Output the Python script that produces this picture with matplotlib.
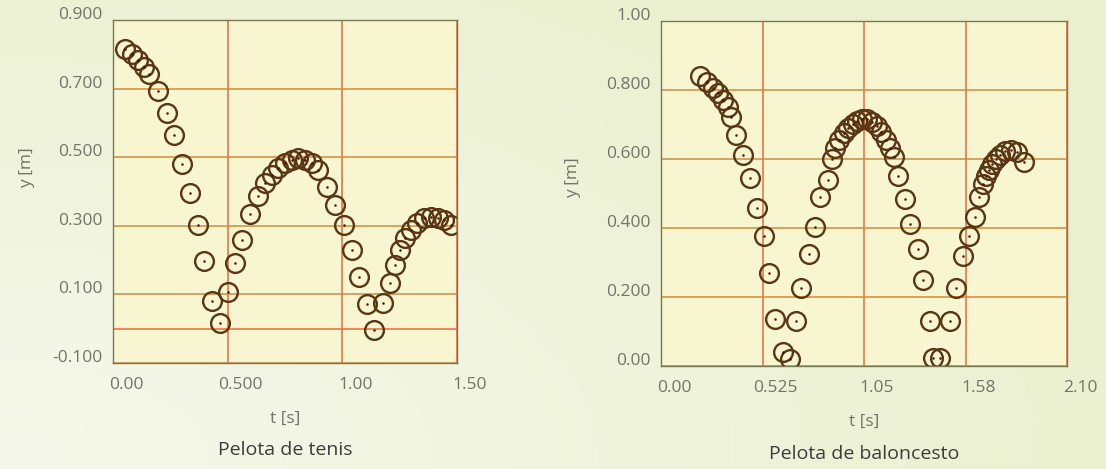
import matplotlib
matplotlib.use("Agg")
import numpy as np
import matplotlib.pyplot as plt
import matplotlib.transforms as mtransforms

plt.rcParams['font.family'] = ['Open Sans', 'DejaVu Sans']

# Pelota de tenis
tenis_t = [0.052, 0.082, 0.110, 0.135, 0.159, 0.198, 0.234, 0.267, 0.302, 0.337,
           0.370, 0.397, 0.432, 0.467, 0.501, 0.534, 0.563, 0.598, 0.634, 0.663,
           0.692, 0.721, 0.750, 0.779, 0.808, 0.837, 0.866, 0.892, 0.932, 0.968,
           1.006, 1.041, 1.071, 1.106, 1.139, 1.177, 1.206, 1.230, 1.251, 1.275,
           1.299, 1.325, 1.356, 1.386, 1.417, 1.445, 1.476]
tenis_y = [0.816, 0.802, 0.784, 0.764, 0.743, 0.693, 0.629, 0.564, 0.481, 0.396,
           0.301, 0.196, 0.080, 0.016, 0.107, 0.191, 0.259, 0.334, 0.388, 0.426,
           0.449, 0.469, 0.483, 0.492, 0.497, 0.492, 0.483, 0.464, 0.413, 0.362,
           0.303, 0.229, 0.152, 0.072, -0.003, 0.075, 0.133, 0.186, 0.229, 0.263,
           0.287, 0.309, 0.323, 0.327, 0.324, 0.317, 0.303]

# Pelota de baloncesto
bal_t = [0.201, 0.236, 0.269, 0.296, 0.322, 0.345, 0.363, 0.390, 0.425, 0.458,
         0.494, 0.532, 0.559, 0.588, 0.630, 0.666, 0.700, 0.726, 0.768, 0.794,
         0.820, 0.866, 0.884, 0.902, 0.922, 0.944, 0.967, 0.992, 1.016, 1.041,
         1.066, 1.091, 1.115, 1.140, 1.163, 1.186, 1.205, 1.228, 1.263, 1.290,
         1.330, 1.357, 1.390, 1.407, 1.445, 1.494, 1.524, 1.560, 1.594, 1.622,
         1.647, 1.665, 1.682, 1.698, 1.714, 1.732, 1.756, 1.780, 1.810, 1.842,
         1.875]
bal_y = [0.842, 0.824, 0.807, 0.790, 0.771, 0.751, 0.722, 0.669, 0.611, 0.546,
         0.459, 0.377, 0.271, 0.137, 0.041, 0.021, 0.130, 0.225, 0.326, 0.402,
         0.490, 0.540, 0.600, 0.632, 0.655, 0.674, 0.689, 0.701, 0.710, 0.716,
         0.715, 0.708, 0.695, 0.677, 0.656, 0.632, 0.605, 0.550, 0.485, 0.412,
         0.338, 0.250, 0.131, 0.022, 0.022, 0.131, 0.225, 0.320, 0.378, 0.432,
         0.490, 0.527, 0.550, 0.568, 0.585, 0.600, 0.612, 0.622, 0.627, 0.620,
         0.590]

tenis_xticks = [0.0, 0.5, 1.0, 1.5]
tenis_xlabels = ['0.00', '0.500', '1.00', '1.50']
tenis_yticks = [0.9, 0.7, 0.5, 0.3, 0.1, -0.1]
tenis_ylabels = ['0.900', '0.700', '0.500', '0.300', '0.100', '-0.100']

bal_xticks = [0.0, 0.525, 1.05, 1.575, 2.1]
bal_xlabels = ['0.00', '0.525', '1.05', '1.58', '2.10']
bal_yticks = [0.0, 0.2, 0.4, 0.6, 0.8, 1.0]
bal_ylabels = ['0.00', '0.200', '0.400', '0.600', '0.800', '1.00']

fig_bg = '#ebf0d0'
ax_bg = '#f7f6d0'
vgrid = '#e86a3c'
hgrid = '#cf8c3c'
ring = '#5a3614'
dot = '#4a1408'
tick_c = '#74746a'

W, H = 1106, 469
fig = plt.figure(figsize=(W / 100, H / 100), dpi=100, facecolor=fig_bg)

# pale scanned-page background, lighter towards the lower left
bg = fig.add_axes([0, 0, 1, 1], zorder=-10)
gx, gy = np.meshgrid(np.linspace(0, 1, 220), np.linspace(0, 1, 95))
d = np.clip(np.hypot(gx * 1.2, (1 - gy) * 1.0) / 1.3, 0, 1)
c0 = np.array([0.965, 0.972, 0.925])
c1 = np.array([0.918, 0.941, 0.808])
img = c0[None, None, :] * (1 - d[..., None]) + c1[None, None, :] * d[..., None]
bg.imshow(img, aspect='auto', extent=(0, 1, 0, 1), origin='upper')
bg.axis('off')

ax1 = fig.add_axes([113 / W, 106 / H, 344 / W, 343 / H])
ax2 = fig.add_axes([661 / W, 103 / H, 406 / W, 345 / H])


def style(ax, x, y, xt, xl, yt, yl, xlim, ylim, title, ylab_x, ylab_y):
    ax.set_facecolor(ax_bg)
    ax.set_xlim(*xlim)
    ax.set_ylim(*ylim)
    ax.set_xticks(xt)
    ax.set_xticklabels(xl)
    ax.set_yticks(yt)
    ax.set_yticklabels(yl)
    ax.tick_params(length=0, labelsize=12.5, labelcolor=tick_c, pad=10)
    ax.tick_params(axis='y', pad=7.5)
    ax.grid(axis='x', color=vgrid, lw=1.1)
    ax.grid(axis='y', color=hgrid, lw=1.1)
    ax.set_axisbelow(True)
    for s in ax.spines.values():
        s.set_color('#767a52')
        s.set_linewidth(1.0)
    # circles with a small dot in the middle
    ax.plot(x, y, ls='none', marker='o', ms=13.5, mfc='none', mec=ring, mew=1.7)
    ax.plot(x, y, ls='none', marker='o', ms=1.8, mfc=dot, mec=dot, mew=0)
    ax.set_xlabel('t [s]', fontsize=12.5, color=tick_c)
    ax.xaxis.set_label_coords(0.5, -0.14)
    ax.set_ylabel('y [m]', fontsize=12.5, color=tick_c)
    ax.yaxis.set_label_coords(ylab_x, ylab_y)
    ax.text(0.5, -0.255, title, transform=ax.transAxes, ha='center', va='center',
            fontsize=14, color='#3c3c3c')
    # labels in the scan sit a little right / up from their ticks
    dx = mtransforms.ScaledTranslation(13 / 100, 0, fig.dpi_scale_trans)
    dy = mtransforms.ScaledTranslation(0, 7 / 100, fig.dpi_scale_trans)
    for lab in ax.get_xticklabels():
        lab.set_transform(lab.get_transform() + dx)
    for lab in ax.get_yticklabels():
        lab.set_transform(lab.get_transform() + dy)


style(ax1, tenis_t, tenis_y, tenis_xticks, tenis_xlabels, tenis_yticks, tenis_ylabels,
      (0, 1.5), (-0.1, 0.9), 'Pelota de tenis', -0.227, 0.57)
ax1.axhline(0.0, color=vgrid, lw=1.1, zorder=0.5)

style(ax2, bal_t, bal_y, bal_xticks, bal_xlabels, bal_yticks, bal_ylabels,
      (0, 2.1), (0, 1.0), 'Pelota de baloncesto', -0.197, 0.545)

fig.savefig('out.png', dpi=100, facecolor=fig_bg)
